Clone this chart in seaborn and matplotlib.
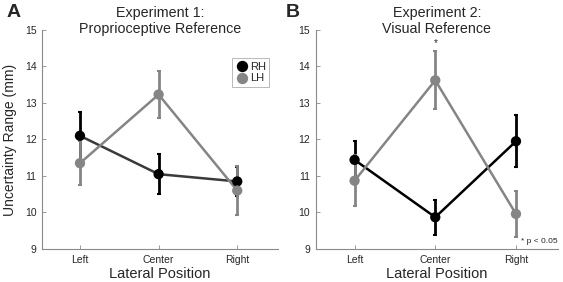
import pandas as pd
import seaborn as sns
import matplotlib.pyplot as plt

## Uncertainty range by lateral position, two experiments

positions = ["Left", "Center", "Right"]
hands = ["RH", "LH"]

# Experiment 1: proprioceptive reference
exp1_rh = [12.10, 11.05, 10.85]
exp1_rh_err = [0.65, 0.54, 0.40]
exp1_lh = [11.35, 13.23, 10.60]
exp1_lh_err = [0.60, 0.65, 0.66]

# Experiment 2: visual reference
exp2_rh = [11.44, 9.87, 11.95]
exp2_rh_err = [0.51, 0.48, 0.71]
exp2_lh = [10.87, 13.62, 9.96]
exp2_lh_err = [0.70, 0.79, 0.64]

titles = [("Experiment 1:", "Proprioceptive Reference"),
          ("Experiment 2:", "Visual Reference")]

def make_df(rh, rh_err, lh, lh_err):
    return pd.DataFrame({
        "Position": positions * 2,
        "Hand": ["RH"] * 3 + ["LH"] * 3,
        "Range": rh + lh,
        "Err": rh_err + lh_err,
    })

df1 = make_df(exp1_rh, exp1_rh_err, exp1_lh, exp1_lh_err)
df2 = make_df(exp2_rh, exp2_rh_err, exp2_lh, exp2_lh_err)

sns.set_style("white")
plt.rcParams["font.family"] = ["Liberation Sans", "DejaVu Sans"]

fig = plt.figure(figsize=(5.63, 2.82), dpi=100)
ax1 = fig.add_axes([0.075, 0.117, 0.419, 0.777])
ax2 = fig.add_axes([0.561, 0.117, 0.430, 0.777])

pal = {"RH": "black", "LH": "#858585"}
line_cols = [{"RH": "#3a3a3a", "LH": "#858585"}, {"RH": "black", "LH": "#858585"}]

for i, (ax, df) in enumerate(zip([ax1, ax2], [df1, df2])):
    # error bars first, LH drawn above RH
    for hand in ["RH", "LH"]:
        sub = df[df["Hand"] == hand]
        x = [positions.index(p) for p in sub["Position"]]
        ax.errorbar(x, sub["Range"], yerr=sub["Err"], fmt="none",
                    ecolor=pal[hand], elinewidth=2, capsize=1.5, capthick=1.5,
                    zorder=2 if hand == "RH" else 3)
    sns.lineplot(data=df, x="Position", y="Range", hue="Hand", hue_order=hands,
                 palette=line_cols[i], lw=1.8, sort=False, legend=False, ax=ax,
                 zorder=2)
    sns.scatterplot(data=df, x="Position", y="Range", hue="Hand", hue_order=hands,
                    palette=pal, s=55, edgecolor="none", legend=(i == 0), ax=ax,
                    zorder=4)
    ax.set_xlim(-0.48, 2.52)
    ax.set_ylim(9, 15)
    ax.set_yticks(range(9, 16))
    sns.despine(ax=ax)
    for s in ["left", "bottom"]:
        ax.spines[s].set_color("#8a8a8a")
        ax.spines[s].set_linewidth(0.8)
    ax.tick_params(direction="in", length=3, width=0.6, color="#8a8a8a",
                   labelsize=7.5, pad=4, left=True, bottom=True)
    ax.set_xlabel("Lateral Position", fontsize=10.5, labelpad=2)
    ax.set_ylabel("")
    # two-line title sitting right on top of the axes
    ax.text(0.5, 1.078, titles[i][0], transform=ax.transAxes, ha="center",
            va="center", fontsize=10.3)
    ax.text(0.5, 1.005, titles[i][1], transform=ax.transAxes, ha="center",
            va="center", fontsize=10.3)

ax1.set_ylabel("Uncertainty Range (mm)", fontsize=10, labelpad=6)

leg = ax1.legend(title=None, loc="upper right", bbox_to_anchor=(0.985, 0.895),
                 fontsize=8, handletextpad=0.1, borderpad=0.3, labelspacing=0.15,
                 frameon=True, fancybox=False, handlelength=1.2, markerscale=1.1)
leg.get_frame().set_edgecolor("#999999")
leg.get_frame().set_linewidth(0.6)

# significance marker
ax2.text(1, 14.65, "*", ha="center", va="center", fontsize=7)
ax2.text(2.52, 9.2, "* p < 0.05", ha="right", va="center", fontsize=6)

fig.text(0.012, 0.955, "A", fontsize=14, fontweight="bold", va="center")
fig.text(0.508, 0.955, "B", fontsize=14, fontweight="bold", va="center")

fig.savefig("out.png", dpi=100)
